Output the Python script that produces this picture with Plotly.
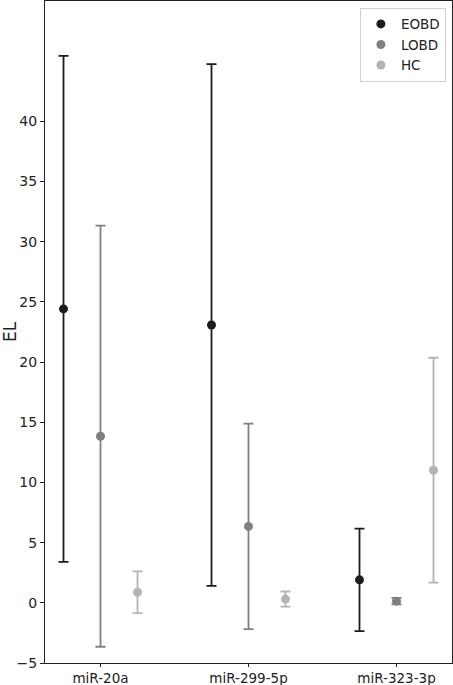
import plotly.graph_objects as go

categories = ["miR-20a", "miR-299-5p", "miR-323-3p"]
groups = ["EOBD", "LOBD", "HC"]
eobd_mean = [24.42, 23.08, 1.91]
eobd_err = [21.02, 21.68, 4.26]
lobd_mean = [13.84, 6.35, 0.14]
lobd_err = [17.49, 8.53, 0.27]
hc_mean = [0.88, 0.31, 11.02]
hc_err = [1.74, 0.63, 9.34]
y_ticks = [-5, 0, 5, 10, 15, 20, 25, 30, 35, 40]

means = [eobd_mean, lobd_mean, hc_mean]
errs = [eobd_err, lobd_err, hc_err]
colors = ["#1c1c1c", "#808080", "#b4b4b4"]
offsets = [-0.25, 0.0, 0.25]

fig = go.Figure()
for g, m, e, c, off in zip(groups, means, errs, colors, offsets):
    fig.add_trace(go.Scatter(
        x=[i + off for i in range(len(categories))],
        y=m,
        mode="markers",
        name=g,
        marker=dict(color=c, size=9),
        error_y=dict(type="data", array=e, visible=True, color=c, thickness=1.8, width=5),
    ))

fig.update_layout(
    width=453, height=685,
    margin=dict(l=45, r=1, t=1, b=22, autoexpand=False),
    paper_bgcolor="white", plot_bgcolor="white",
    font=dict(family="DejaVu Sans", size=14, color="#222"),
    showlegend=True,
    legend=dict(x=0.985, y=0.99, xanchor="right", yanchor="top",
                bordercolor="#d0d0d0", borderwidth=1, bgcolor="rgba(255,255,255,0.8)",
                font=dict(size=13.5), tracegroupgap=0, itemwidth=30),
)
fig.update_xaxes(
    range=[-0.375, 2.375], tickmode="array", tickvals=[0, 1, 2], ticktext=categories,
    showline=True, linecolor="#222", linewidth=1, mirror=True, automargin=False,
    ticks="outside", ticklen=3, tickcolor="#222", showgrid=False, zeroline=False,
    tickfont=dict(size=13.5),
)
fig.update_yaxes(
    range=[-5, 50], tickmode="array", tickvals=y_ticks, automargin=False,
    showline=True, linecolor="#222", linewidth=1, mirror=True,
    ticks="outside", ticklen=4, tickcolor="#222", showgrid=False, zeroline=False,
    title=dict(text="EL", standoff=0),
)
fig.write_html(
    "out.html",
    config={"displayModeBar": False},
    post_script="document.body.style.margin='0';document.body.style.overflow='hidden';",
)
